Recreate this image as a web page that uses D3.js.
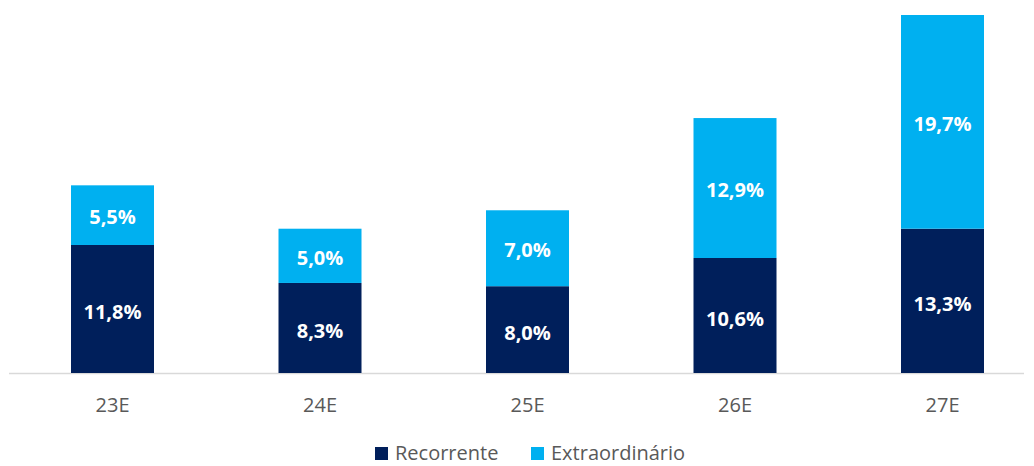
<!DOCTYPE html>
<html>
<head>
<meta charset="utf-8">
<script src="https://cdn.jsdelivr.net/npm/d3@7/dist/d3.min.js"></script>
<style>
  html, body { margin: 0; padding: 0; background: #fff; }
  svg { display: block; }
</style>
</head>
<body>
<svg id="chart" width="1034" height="466"></svg>
<script>
const categories = ["23E", "24E", "25E", "26E", "27E"];
const recorrente = [11.8, 8.3, 8.0, 10.6, 13.3];
const extraordinario = [5.5, 5.0, 7.0, 12.9, 19.7];
const seriesNames = ["Recorrente", "Extraordinário"];
const colors = ["#001F5B", "#00B0F0"];

const svg = d3.select("#chart");
const fontFamily = "'Open Sans', 'DejaVu Sans', sans-serif";

const x = d3.scaleBand()
  .domain(categories)
  .range([8.75, 1046.25])
  .paddingInner(0.6)
  .paddingOuter(0.3);

const y = d3.scaleLinear()
  .domain([0, 33])
  .range([373, 15]);

const fmt = v => v.toFixed(1).replace(".", ",") + "%";

const data = categories.map((c, i) => ({ cat: c, rec: recorrente[i], ext: extraordinario[i] }));

// axis line
svg.append("line")
  .attr("x1", 9).attr("x2", 1024)
  .attr("y1", y(0) + 0.5).attr("y2", y(0) + 0.5)
  .attr("stroke", "#D9D9D9").attr("stroke-width", 1.3);

const g = svg.append("g");
const bars = g.selectAll("g.bar").data(data).enter().append("g");

bars.append("rect")
  .attr("x", d => x(d.cat))
  .attr("width", x.bandwidth())
  .attr("y", d => y(d.rec))
  .attr("height", d => y(0) - y(d.rec))
  .attr("fill", colors[0]);

bars.append("rect")
  .attr("x", d => x(d.cat))
  .attr("width", x.bandwidth())
  .attr("y", d => y(d.rec + d.ext))
  .attr("height", d => y(d.rec) - y(d.rec + d.ext))
  .attr("fill", colors[1]);

bars.append("text")
  .attr("x", d => x(d.cat) + x.bandwidth() / 2)
  .attr("y", d => (y(0) + y(d.rec)) / 2 + 3)
  .attr("dy", "0.36em")
  .attr("text-anchor", "middle")
  .attr("fill", "#fff")
  .attr("font-family", fontFamily)
  .attr("font-weight", "bold")
  .attr("font-size", 20)
  .text(d => fmt(d.rec));

bars.append("text")
  .attr("x", d => x(d.cat) + x.bandwidth() / 2)
  .attr("y", d => (y(d.rec) + y(d.rec + d.ext)) / 2 + 2)
  .attr("dy", "0.36em")
  .attr("text-anchor", "middle")
  .attr("fill", "#fff")
  .attr("font-family", fontFamily)
  .attr("font-weight", "bold")
  .attr("font-size", 20)
  .text(d => fmt(d.ext));

// category axis
const xAxis = d3.axisBottom(x).tickSize(0).tickPadding(0);
const ax = svg.append("g").attr("transform", `translate(0, ${y(0)})`).call(xAxis);
ax.select(".domain").remove();
ax.selectAll("text")
  .attr("y", 39)
  .attr("dy", 0)
  .attr("fill", "#595959")
  .attr("font-family", fontFamily)
  .attr("font-size", 20);

// legend
const legendItems = [
  { name: seriesNames[0], color: colors[0], x: 375 },
  { name: seriesNames[1], color: colors[1], x: 531 }
];
const lg = svg.append("g");
legendItems.forEach(it => {
  lg.append("rect").attr("x", it.x).attr("y", 447).attr("width", 13).attr("height", 13).attr("fill", it.color);
  lg.append("text").attr("x", it.x + 20).attr("y", 460)
    .attr("fill", "#595959")
    .attr("font-family", fontFamily)
    .attr("font-size", 20)
    .text(it.name);
});
</script>
</body>
</html>
